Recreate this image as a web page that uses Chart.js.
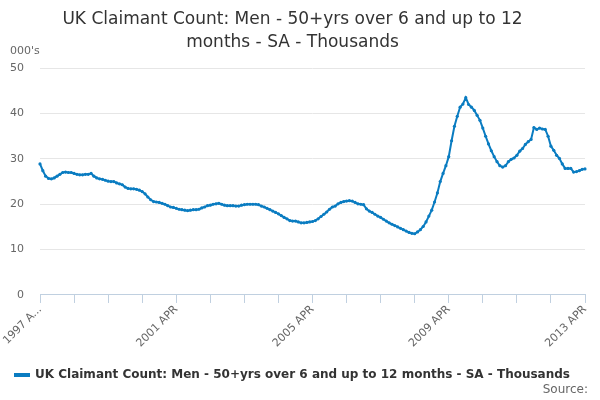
<!DOCTYPE html>
<html>
<head>
<meta charset="utf-8">
<script src="https://cdn.jsdelivr.net/npm/chart.js@4/dist/chart.umd.min.js"></script>
<style>
  html, body { margin: 0; padding: 0; background: #fff; }
  #wrap { width: 600px; height: 400px; }
</style>
</head>
<body>
<div id="wrap"><canvas id="c" width="600" height="400"></canvas></div>
<script>
const chartTitle = ["UK Claimant Count: Men - 50+yrs over 6 and up to 12", "months - SA - Thousands"];
const seriesName = "UK Claimant Count: Men - 50+yrs over 6 and up to 12 months - SA - Thousands";
const yUnit = "000's";
const sourceText = "Source:";
const startYear = 1997;
const monthNames = ["APR","MAY","JUN","JUL","AUG","SEP","OCT","NOV","DEC","JAN","FEB","MAR"];
const tickLabels = ["1997 A...", "2001 APR", "2005 APR", "2009 APR", "2013 APR"];

// Monthly values, 1997 APR .. 2013 APR (thousands)
const values1997 = [28.9, 27.4, 26.2, 25.7, 25.6, 25.8, 26.2, 26.6, 27.0, 27.1, 27.0, 27.0];
const values1998 = [26.8, 26.6, 26.5, 26.5, 26.6, 26.6, 26.8, 26.2, 25.8, 25.6, 25.5, 25.3];
const values1999 = [25.1, 25.0, 25.0, 24.7, 24.5, 24.3, 23.8, 23.5, 23.4, 23.4, 23.3, 23.1];
const values2000 = [22.8, 22.3, 21.6, 21.0, 20.6, 20.5, 20.4, 20.2, 20.0, 19.7, 19.4, 19.3];
const values2001 = [19.1, 18.9, 18.8, 18.7, 18.6, 18.7, 18.8, 18.8, 18.9, 19.2, 19.4, 19.7];
const values2002 = [19.8, 20.0, 20.1, 20.2, 20.0, 19.8, 19.7, 19.7, 19.7, 19.6, 19.6, 19.8];
const values2003 = [19.9, 20.0, 20.0, 20.0, 20.0, 19.9, 19.6, 19.4, 19.1, 18.8, 18.5, 18.2];
const values2004 = [17.9, 17.5, 17.1, 16.8, 16.4, 16.3, 16.3, 16.1, 15.9, 15.9, 16.0, 16.1];
const values2005 = [16.2, 16.4, 16.8, 17.3, 17.8, 18.3, 18.9, 19.4, 19.6, 20.1, 20.4, 20.6];
const values2006 = [20.7, 20.8, 20.7, 20.4, 20.1, 20.0, 19.9, 19.0, 18.5, 18.2, 17.8, 17.4];
const values2007 = [17.1, 16.7, 16.3, 15.9, 15.6, 15.3, 15.0, 14.7, 14.4, 14.1, 13.8, 13.6];
const values2008 = [13.5, 13.9, 14.4, 15.1, 16.1, 17.4, 18.7, 20.5, 22.5, 25.0, 26.8, 28.5];
const values2009 = [30.5, 34.0, 37.2, 39.4, 41.4, 42.1, 43.5, 42.0, 41.4, 40.7, 39.6, 38.5];
const values2010 = [36.8, 35.0, 33.3, 31.8, 30.5, 29.4, 28.5, 28.2, 28.5, 29.4, 29.9, 30.2];
const values2011 = [30.8, 31.7, 32.3, 33.2, 33.8, 34.3, 36.9, 36.5, 36.8, 36.6, 36.5, 35.0];
const values2012 = [32.8, 31.9, 30.8, 30.1, 28.9, 27.9, 27.9, 27.9, 27.1, 27.2, 27.4, 27.7];
const values2013 = [27.8];

const values = [].concat(values1997, values1998, values1999, values2000, values2001, values2002,
  values2003, values2004, values2005, values2006, values2007, values2008, values2009, values2010,
  values2011, values2012, values2013);

const categories = values.map((v, i) => {
  const m = i % 12;
  const y = startYear + Math.floor(i / 12) + (m >= 9 ? 1 : 0);
  return y + " " + monthNames[m];
});

const lineColor = '#0a7cc1';
const axisColor = '#c0d0e0';

const extraText = {
  id: 'extraText',
  afterDraw(chart) {
    const ctx = chart.ctx;
    const a = chart.chartArea;
    ctx.save();
    ctx.fillStyle = '#666';
    ctx.font = '11px "DejaVu Sans"';
    ctx.textAlign = 'left';
    ctx.textBaseline = 'middle';
    ctx.fillText(yUnit, 10, a.top - 17);
    ctx.font = '12px "DejaVu Sans"';
    ctx.textAlign = 'right';
    ctx.fillText(sourceText, 588, 390);
    ctx.restore();
  }
};

new Chart(document.getElementById('c'), {
  type: 'line',
  data: {
    labels: categories,
    datasets: [{
      label: seriesName,
      data: values,
      borderColor: lineColor,
      backgroundColor: lineColor,
      borderWidth: 2,
      pointRadius: 1.6,
      pointBorderWidth: 0,
      pointBackgroundColor: lineColor,
      tension: 0,
      fill: false
    }]
  },
  options: {
    responsive: false,
    animation: false,
    devicePixelRatio: 1,
    layout: { padding: { left: 0, right: 15, top: 4, bottom: 9 } },
    plugins: {
      title: {
        display: true,
        text: chartTitle,
        color: '#333',
        font: { family: 'DejaVu Sans', size: 17, weight: 'normal', lineHeight: 1.3 },
        padding: { top: 5, bottom: 15 }
      },
      legend: {
        position: 'bottom',
        labels: {
          color: '#333',
          font: { family: 'DejaVu Sans', size: 12, weight: 'bold' },
          boxWidth: 14,
          boxHeight: 2,
          padding: 19
        }
      },
      tooltip: { enabled: false }
    },
    scales: {
      x: {
        type: 'category',
        offset: false,
        border: { display: true, color: axisColor, width: 1 },
        grid: {
          drawOnChartArea: false,
          drawTicks: true,
          tickLength: 8,
          tickColor: (ctx) => (ctx.index % 12 === 0 ? axisColor : 'rgba(0,0,0,0)'),
          color: 'rgba(0,0,0,0)'
        },
        ticks: {
          autoSkip: false,
          maxRotation: 45,
          minRotation: 45,
          color: '#666',
          font: { family: 'DejaVu Sans', size: 11 },
          padding: 0,
          callback: (v, i) => (i % 48 === 0 ? tickLabels[i / 48] : '')
        }
      },
      y: {
        min: 0,
        max: 50,
        border: { display: false },
        grid: { color: '#e6e6e6', drawTicks: false },
        afterFit: (scale) => { scale.width = 40; },
        ticks: {
          stepSize: 10,
          color: '#666',
          font: { family: 'DejaVu Sans', size: 11 },
          padding: 16
        }
      }
    }
  },
  plugins: [extraText]
});
</script>
</body>
</html>
